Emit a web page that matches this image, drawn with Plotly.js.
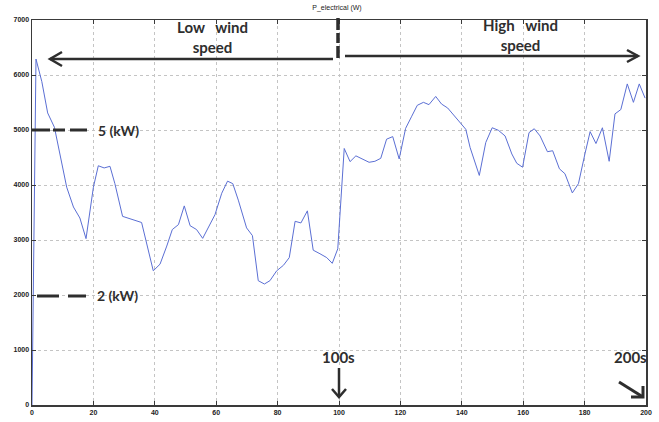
<!DOCTYPE html>
<html>
<head>
<meta charset="utf-8">
<script src="https://cdn.plot.ly/plotly-3.0.1.min.js"></script>
<style>html,body{margin:0;padding:0;background:#fff;}#chart{width:659px;height:422px;}</style>
</head>
<body>
<div id="chart"></div>
<script>
// Time (s)
const timeS = [0, 1.3, 3.2, 5.1, 7.3, 9.1, 11.3, 13.5, 15.6, 17.6, 20, 21.6, 23.5, 25.4, 27, 29.5, 33, 35.7,
  39.5, 41.7, 43.9, 45.7, 47.7, 49.6, 51.5, 53.6, 55.6, 57.4, 59.6, 61.8, 63.7, 65.4, 67.2, 69.9, 71.8,
  73.7, 75.7, 77.5, 79.7, 81.9, 83.8, 85.7, 87.6, 89.7, 91.6, 93.8, 96, 97.8, 99.6, 101.7, 103.6, 105.5,
  107.4, 109.8, 111.7, 113.6, 115.5, 117.5, 119.6, 121.7, 123.7, 125.5, 127.5, 129.3, 131.5, 133.4, 135.4,
  137.5, 139.7, 141.3, 142.7, 144.1, 145.7, 147.8, 149.9, 151.9, 154.1, 156.3, 157.9, 159.8, 161.9, 163.6,
  165.5, 167.9, 169.6, 171.8, 173.6, 176, 178, 180.1, 181.8, 183.7, 185.8, 188, 189.9, 191.8, 193.9, 195.9,
  197.8, 199.7];
// Electrical power (W)
const powerW = [0, 6290, 5880, 5310, 5050, 4560, 3960, 3600, 3400, 3025, 3960, 4350, 4310, 4340, 4025, 3430, 3360, 3318,
  2440, 2560, 2890, 3190, 3280, 3620, 3260, 3190, 3030, 3220, 3460, 3850, 4070, 4025, 3725, 3220, 3080,
  2260, 2200, 2260, 2440, 2540, 2680, 3340, 3310, 3530, 2815, 2750, 2680, 2576, 2840, 4664, 4425, 4530,
  4474, 4413, 4431, 4485, 4833, 4880, 4474, 5030, 5251, 5449, 5503, 5461, 5610, 5472, 5400,
  5269, 5131, 5013, 4683, 4444, 4174, 4772, 5041, 4995, 4892, 4564, 4395, 4323, 4952, 5023,
  4892, 4605, 4623, 4294, 4205, 3856, 4025, 4564, 4970, 4754, 5041, 4431, 5293, 5372, 5838, 5503,
  5838, 5580];
const xTicks = [0, 20, 40, 60, 80, 100, 120, 140, 160, 180, 200];
const yTicks = [0, 1000, 2000, 3000, 4000, 5000, 6000, 7000];
const chartTitle = 'P_electrical (W)';

// pixel -> paper helpers (plot area 32..646 x, 20..405 y)
const L = 32, R = 646, T = 20, B = 405;
const px = v => (v - L) / (R - L);
const py = v => (B - v) / (B - T);
const ink = '#2e2e2e';
function seg(x0, y0, x1, y1, w, dash) {
  return {type: 'line', xref: 'paper', yref: 'paper', x0: px(x0), y0: py(y0), x1: px(x1), y1: py(y1),
    line: {color: ink, width: w, dash: dash || 'solid'}};
}
function path(pts, w) {
  const d = pts.map((p, i) => (i ? 'L' : 'M') + px(p[0]) + ',' + py(p[1])).join(' ');
  return {type: 'path', xref: 'paper', yref: 'paper', path: d, line: {color: ink, width: w}};
}
function label(text, x, y, size) {
  return {xref: 'paper', yref: 'paper', x: px(x), y: py(y), xanchor: 'center', yanchor: 'middle',
    text: text, showarrow: false, borderpad: 0,
    font: {family: 'Lato, "Open Sans", sans-serif', size: size, color: ink, weight: 700}};
}

const trace = {x: timeS, y: powerW, type: 'scatter', mode: 'lines',
  line: {color: '#5b6fd4', width: 1}, hoverinfo: 'skip'};

const axisCommon = {
  showline: true, mirror: 'ticks', linecolor: '#3a3a3a', linewidth: 1.5,
  ticks: 'inside', ticklen: 4, tickcolor: '#3a3a3a',
  showgrid: true, gridcolor: '#c4c4c4', griddash: 'dot', gridwidth: 1,
  zeroline: false, tickfont: {family: 'Arial, sans-serif', size: 7, color: '#222', weight: 700}
};

const layout = {
  width: 659, height: 422,
  margin: {l: L, r: 659 - R, t: T, b: 422 - B},
  paper_bgcolor: '#fff', plot_bgcolor: '#fff', showlegend: false,
  title: {text: chartTitle, x: px(337), xref: 'paper', y: 1 - 8 / 422, yref: 'container',
    xanchor: 'center', yanchor: 'middle', font: {family: 'Arial, sans-serif', size: 7, color: '#222'}},
  xaxis: Object.assign({}, axisCommon, {range: [0, 200], tickvals: xTicks, ticktext: xTicks.map(String)}),
  yaxis: Object.assign({}, axisCommon, {range: [0, 7000], tickvals: yTicks, ticktext: yTicks.map(String)}),
  shapes: [
    // left arrow
    seg(50, 59, 333, 59, 2.5),
    path([[62, 52], [50, 59], [62, 66]], 2.5),
    // right arrow
    seg(345, 56, 638, 56, 2.5),
    path([[627, 50], [638, 56], [627, 62]], 2.5),
    // vertical separator
    seg(338, 18, 338, 66, 3.5, '12px,3px,10px,3px,12px'),
    // 5 kW marker
    seg(32, 130, 88, 130, 3, '18px,3px,12px,5px,17px'),
    // 2 kW marker
    seg(37, 296, 86, 296, 3, '22px,9px,18px'),
    // 100s arrow
    seg(339, 368, 339, 397, 2.5),
    path([[332, 389], [339, 397], [346, 389]], 2.5),
    // 200s arrow
    seg(619, 382, 643, 397, 3),
    path([[631, 397], [643, 397], [643, 386]], 3)
  ],
  annotations: [
    label('Low\u00a0\u00a0\u00a0wind<br>speed', 212, 37, 15),
    label('High\u00a0\u00a0\u00a0wind<br>speed', 520, 35, 15),
    label('5 (kW)', 118, 130, 14),
    label('2 (kW)', 117, 295, 14),
    label('100s', 338, 357, 15),
    label('200s', 630, 357, 15)
  ]
};

Plotly.newPlot('chart', [trace], layout, {displayModeBar: false, staticPlot: true});
</script>
</body>
</html>
